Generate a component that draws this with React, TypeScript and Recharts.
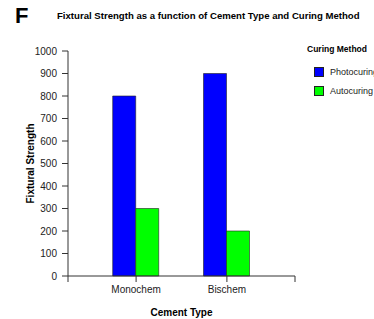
import React from 'react';
import { BarChart, Bar, XAxis, YAxis } from 'recharts';

const cementTypes = ['Monochem', 'Bischem'];
const photocuring = [800, 900];
const autocuring = [300, 200];
const yTicks = [0, 100, 200, 300, 400, 500, 600, 700, 800, 900, 1000];

// categories sit at 1, 2 on a numeric axis so the end ticks can be drawn
const data = cementTypes.map((name, i) => ({
  pos: i + 1,
  name,
  photocuring: photocuring[i],
  autocuring: autocuring[i],
}));

const FONT = '"Liberation Sans", Arial, sans-serif';
const axisColor = '#333';

const legendItems = [
  { label: 'Photocuring', color: '#0000ff' },
  { label: 'Autocuring', color: '#00ff00' },
];

const App: React.FC = () => {
  const formatX = (v: number) => {
    const item = data.find((d) => d.pos === v);
    return item ? item.name : '';
  };

  return (
    <div
      style={{
        position: 'absolute',
        left: 0,
        top: 0,
        width: 374,
        height: 319,
        overflow: 'hidden',
        background: '#fff',
        fontFamily: FONT,
      }}
    >
      <div style={{ position: 'absolute', left: 15, top: 3, fontSize: 22, fontWeight: 'bold', lineHeight: '26px' }}>F</div>
      <div style={{ position: 'absolute', left: 57, top: 10, fontSize: 9.6, fontWeight: 'bold', lineHeight: '12px', whiteSpace: 'nowrap' }}>
        Fixtural Strength as a function of Cement Type and Curing Method
      </div>

      <BarChart
        width={374}
        height={319}
        data={data}
        margin={{ top: 51, right: 79, left: 28, bottom: 0 }}
        barGap={0}
      >
        <XAxis
          type="number"
          dataKey="pos"
          domain={[0.25, 2.75]}
          ticks={[0.25, 1, 2, 2.75]}
          tickFormatter={formatX}
          height={43}
          tickSize={6}
          tickMargin={4}
          stroke={axisColor}
          tick={{ fill: '#222', fontSize: 10, fontFamily: FONT }}
          label={{
            value: 'Cement Type',
            position: 'insideBottom',
            offset: 3,
            fill: '#000',
            fontSize: 10,
            fontWeight: 'bold',
            fontFamily: FONT,
          }}
        />
        <YAxis
          domain={[0, 1000]}
          ticks={yTicks}
          width={40}
          tickSize={6}
          tickMargin={5}
          stroke={axisColor}
          tick={{ fill: '#222', fontSize: 10, fontFamily: FONT }}
          label={{
            value: 'Fixtural Strength',
            angle: -90,
            position: 'insideLeft',
            offset: 2,
            style: { textAnchor: 'middle' },
            fill: '#000',
            fontSize: 10,
            fontWeight: 'bold',
            fontFamily: FONT,
          }}
        />
        <Bar dataKey="photocuring" name="Photocuring" fill="#0000ff" stroke="#222" strokeWidth={0.6} barSize={23} isAnimationActive={false} />
        <Bar dataKey="autocuring" name="Autocuring" fill="#00ff00" stroke="#222" strokeWidth={0.6} barSize={23} isAnimationActive={false} />
      </BarChart>

      <div style={{ position: 'absolute', left: 307, top: 43, fontSize: 8.5, fontWeight: 'bold', lineHeight: '12px', whiteSpace: 'nowrap' }}>
        Curing Method
      </div>
      {legendItems.map((item, i) => (
        <div
          key={item.label}
          style={{ position: 'absolute', left: 314, top: 67 + i * 19, display: 'flex', alignItems: 'center', whiteSpace: 'nowrap', fontSize: 9, color: '#222' }}
        >
          <span style={{ width: 8, height: 8, background: item.color, border: '0.6px solid #222', marginRight: 6 }} />
          {item.label}
        </div>
      ))}
    </div>
  );
};

export default App;
